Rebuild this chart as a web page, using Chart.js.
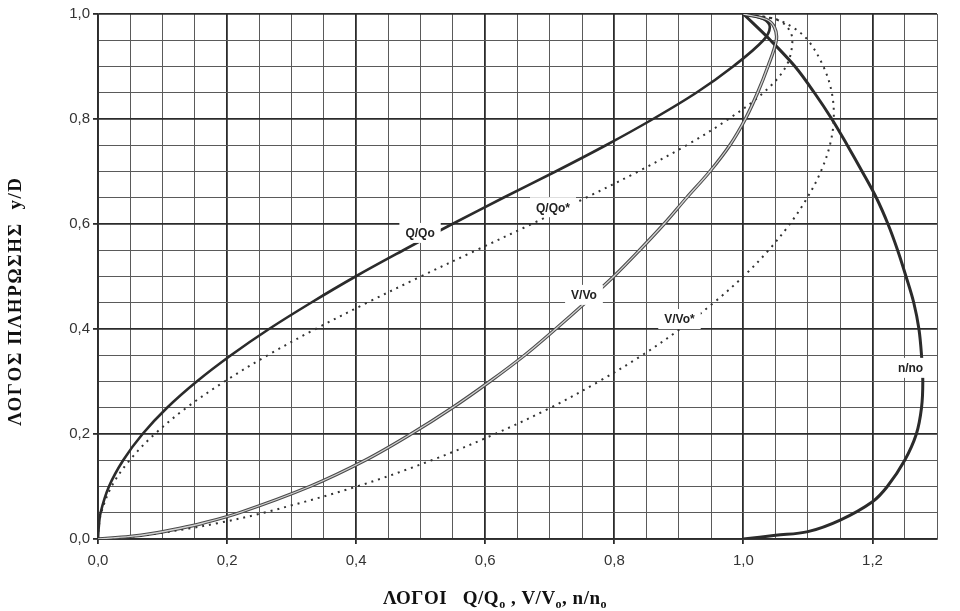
<!DOCTYPE html>
<html>
<head>
  <meta charset="utf-8">
  <title>Λόγοι πλήρωσης αγωγού</title>
  <script src="https://cdn.jsdelivr.net/npm/chart.js"></script>
  <style>
    html, body { margin: 0; padding: 0; background: #fff; }
  </style>
</head>
<body>
  <canvas id="chart" width="960" height="611"></canvas>

  <script>
    // ετικέτες αξόνων
    const xTickLabels = [0, 0.2, 0.4, 0.6, 0.8, 1.0, 1.2];
    const yTickLabels = [0, 0.2, 0.4, 0.6, 0.8, 1.0];

    // Q/Qo (μεταβλητό n)
    const qX = [0, 0.001, 0.004, 0.017, 0.039, 0.069, 0.107, 0.153, 0.206, 0.265, 0.33, 0.399, 0.473, 0.549, 0.628, 0.709, 0.787, 0.86, 0.927, 0.984, 1.031, 1.041, 1.032, 1.0];
    const qY = [0, 0.02, 0.05, 0.1, 0.15, 0.2, 0.25, 0.3, 0.35, 0.4, 0.45, 0.5, 0.55, 0.6, 0.65, 0.7, 0.75, 0.8, 0.85, 0.9, 0.95, 0.975, 0.99, 1.0];

    // Q/Qo* (σταθερό n)
    const qsX = [0, 0.001, 0.005, 0.021, 0.049, 0.088, 0.137, 0.196, 0.263, 0.337, 0.417, 0.5, 0.586, 0.672, 0.756, 0.837, 0.912, 0.977, 1.031, 1.066, 1.076, 1.068, 1.05, 1.0];
    const qsY = [0, 0.02, 0.05, 0.1, 0.15, 0.2, 0.25, 0.3, 0.35, 0.4, 0.45, 0.5, 0.55, 0.6, 0.65, 0.7, 0.75, 0.8, 0.85, 0.9, 0.95, 0.975, 0.99, 1.0];

    // V/Vo (μεταβλητό n)
    const vX = [0, 0.05, 0.082, 0.126, 0.162, 0.219, 0.328, 0.414, 0.485, 0.549, 0.607, 0.661, 0.709, 0.755, 0.799, 0.839, 0.877, 0.912, 0.948, 0.979, 1.003, 1.022, 1.038, 1.051, 1.048, 1.035, 1.0];
    const vY = [0, 0.005, 0.01, 0.02, 0.03, 0.05, 0.1, 0.15, 0.2, 0.25, 0.3, 0.35, 0.4, 0.45, 0.5, 0.55, 0.6, 0.65, 0.7, 0.75, 0.8, 0.85, 0.9, 0.95, 0.975, 0.99, 1.0];

    // V/Vo* (σταθερό n)
    const vsX = [0, 0.056, 0.089, 0.141, 0.185, 0.257, 0.401, 0.517, 0.615, 0.701, 0.776, 0.843, 0.902, 0.954, 1.0, 1.039, 1.072, 1.099, 1.12, 1.134, 1.14, 1.137, 1.124, 1.1, 1.076, 1.05, 1.0];
    const vsY = [0, 0.005, 0.01, 0.02, 0.03, 0.05, 0.1, 0.15, 0.2, 0.25, 0.3, 0.35, 0.4, 0.45, 0.5, 0.55, 0.6, 0.65, 0.7, 0.75, 0.8, 0.85, 0.9, 0.95, 0.975, 0.99, 1.0];

    // n/no
    const nX = [1.0, 1.05, 1.1, 1.15, 1.2, 1.223, 1.25, 1.268, 1.276, 1.278, 1.276, 1.272, 1.264, 1.252, 1.239, 1.224, 1.206, 1.184, 1.161, 1.137, 1.11, 1.08, 1.042, 1.0];
    const nY = [0.0, 0.007, 0.014, 0.036, 0.071, 0.1, 0.15, 0.2, 0.25, 0.3, 0.35, 0.4, 0.45, 0.5, 0.55, 0.6, 0.65, 0.7, 0.75, 0.8, 0.85, 0.9, 0.95, 1.0];

    const curveNames = ['Q/Qo', 'Q/Qo*', 'V/Vo', 'V/Vo*', 'n/no'];

    const pts = (xs, ys) => xs.map((x, i) => ({ x: x, y: ys[i] }));
    const isMajor = v => Math.abs(v / 0.2 - Math.round(v / 0.2)) < 1e-6;
    const hasLabel = (list, v) => list.some(t => Math.abs(t - v) < 1e-6);
    const fmt = v => v.toFixed(1).replace('.', ',');

    const DARK = '#2b2b2b';
    const MINOR = '#5a5a5a';

    // ετικέτες καμπυλών με λευκό φόντο
    const curveLabels = {
      id: 'curveLabels',
      afterDatasetsDraw(chart, args, opts) {
        const ctx = chart.ctx;
        const xs = chart.scales.x, ys = chart.scales.y;
        ctx.save();
        ctx.font = "bold 12px 'Liberation Sans', Arial, sans-serif";
        ctx.textAlign = 'center';
        ctx.textBaseline = 'middle';
        opts.items.forEach(it => {
          const px = xs.getPixelForValue(it.x);
          const py = ys.getPixelForValue(it.y);
          const w = ctx.measureText(it.text).width + 12;
          ctx.fillStyle = '#fff';
          ctx.fillRect(px - w / 2, py - 10, w, 20);
          ctx.fillStyle = '#222';
          ctx.fillText(it.text, px, py + 1);
        });
        ctx.restore();
      }
    };

    // τίτλοι αξόνων (με δείκτες)
    const axisTitles = {
      id: 'axisTitles',
      afterDraw(chart) {
        const ctx = chart.ctx;
        ctx.save();
        ctx.fillStyle = '#111';
        ctx.textBaseline = 'alphabetic';

        // άξονας y
        ctx.font = "bold 19px 'Liberation Serif', 'DejaVu Serif', serif";
        ctx.letterSpacing = '1.6px';
        ctx.translate(21, 301);
        ctx.rotate(-Math.PI / 2);
        ctx.textAlign = 'center';
        ctx.fillText('ΛΟΓΟΣ ΠΛΗΡΩΣΗΣ  y/D', 0, 0);
        ctx.setTransform(1, 0, 0, 1, 0, 0);

        // άξονας x
        ctx.textAlign = 'left';
        ctx.letterSpacing = '0.5px';
        const parts = [
          ['ΛΟΓΟΙ   Q/Q', false], ['o', true], [' , V/V', false], ['o', true], [', n/n', false], ['o', true]
        ];
        let cx = 383;
        parts.forEach(p => {
          ctx.font = p[1] ? "bold 12px 'Liberation Serif', serif" : "bold 19px 'Liberation Serif', 'DejaVu Serif', serif";
          ctx.fillText(p[0], cx, p[1] ? 608 : 604);
          cx += ctx.measureText(p[0]).width;
        });
        ctx.restore();
      }
    };

    const tickFont = { family: "'Liberation Sans', Arial, sans-serif", size: 15 };

    new Chart(document.getElementById('chart'), {
      type: 'scatter',
      data: {
        datasets: [
          { label: 'Q/Qo', data: pts(qX, qY), borderColor: DARK, borderWidth: 2.6, order: 1 },
          { label: 'Q/Qo*', data: pts(qsX, qsY), borderColor: '#333', borderWidth: 2, borderDash: [2, 5], order: 1 },
          { label: 'V/Vo', data: pts(vX, vY), borderColor: '#4a4a4a', borderWidth: 3.4, order: 2 },
          { label: 'V/Vo (εσωτ.)', data: pts(vX, vY), borderColor: '#d2d2d2', borderWidth: 1.3, order: 0 },
          { label: 'V/Vo*', data: pts(vsX, vsY), borderColor: '#333', borderWidth: 2, borderDash: [2, 5], order: 1 },
          { label: 'n/no', data: pts(nX, nY), borderColor: DARK, borderWidth: 3, order: 1 }
        ].map(d => Object.assign({ showLine: true, pointRadius: 0, tension: 0.35, fill: false }, d))
      },
      options: {
        responsive: false,
        animation: false,
        devicePixelRatio: 1,
        layout: { padding: { top: 14, right: 23, left: 0, bottom: 0 } },
        plugins: {
          legend: { display: false },
          tooltip: { enabled: false },
          curveLabels: {
            items: [
              { text: curveNames[0], x: 0.499, y: 0.583 },
              { text: curveNames[1], x: 0.705, y: 0.632 },
              { text: curveNames[2], x: 0.753, y: 0.465 },
              { text: curveNames[3], x: 0.901, y: 0.419 },
              { text: curveNames[4], x: 1.259, y: 0.326 }
            ]
          }
        },
        scales: {
          x: {
            type: 'linear', min: 0, max: 1.3,
            afterFit: s => { s.height = 72; },
            border: { color: DARK, width: 1.8 },
            grid: {
              color: c => isMajor(c.tick.value) ? DARK : MINOR,
              lineWidth: c => isMajor(c.tick.value) ? 1.8 : 1,
              tickLength: 5,
              tickColor: c => isMajor(c.tick.value) ? DARK : 'rgba(0,0,0,0)'
            },
            ticks: {
              stepSize: 0.05, autoSkip: false, maxRotation: 0, padding: 8,
              color: '#333', font: tickFont,
              callback: v => hasLabel(xTickLabels, v) ? fmt(v) : ''
            }
          },
          y: {
            type: 'linear', min: 0, max: 1.0,
            afterFit: s => { s.width = 98; },
            border: { color: DARK, width: 1.8 },
            grid: {
              color: c => isMajor(c.tick.value) ? DARK : MINOR,
              lineWidth: c => isMajor(c.tick.value) ? 1.8 : 1,
              tickLength: 5,
              tickColor: c => isMajor(c.tick.value) ? DARK : 'rgba(0,0,0,0)'
            },
            ticks: {
              stepSize: 0.05, autoSkip: false, padding: 3,
              color: '#333', font: tickFont,
              callback: v => hasLabel(yTickLabels, v) ? fmt(v) : ''
            }
          }
        }
      },
      plugins: [curveLabels, axisTitles]
    });
  </script>
</body>
</html>
